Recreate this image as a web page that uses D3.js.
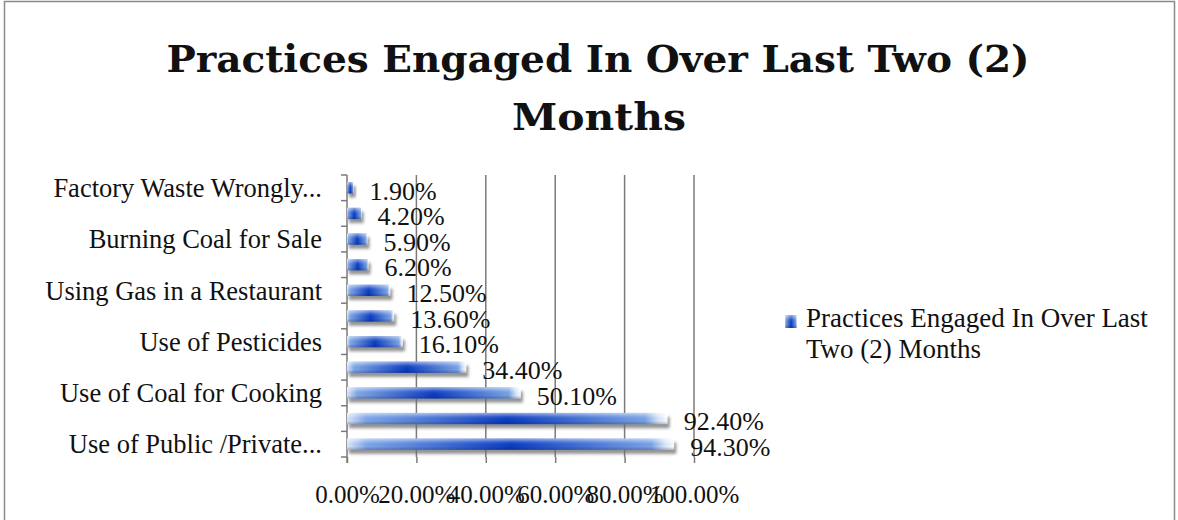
<!DOCTYPE html>
<html>
<head>
<meta charset="utf-8">
<script src="https://cdn.jsdelivr.net/npm/d3@7"></script>
<style>
  body { margin: 0; background: #fff; }
  svg text { font-family: "Liberation Serif", "DejaVu Serif", serif; fill: #111; }
</style>
</head>
<body>
<div id="chart"></div>
<script>
// categories top to bottom; only every other one is labelled in the original
const categories = [
  "Factory Waste Wrongly Disposed",
  "Practice 2",
  "Burning Coal for Sale",
  "Practice 4",
  "Using Gas in a Restaurant",
  "Practice 6",
  "Use of Pesticides",
  "Practice 8",
  "Use of Coal for Cooking",
  "Practice 10",
  "Use of Public /Private Transport"
];
const shownLabels = [
  "Factory Waste Wrongly...", "", "Burning Coal for Sale", "",
  "Using Gas in a Restaurant", "", "Use of Pesticides", "",
  "Use of Coal for Cooking", "", "Use of Public /Private..."
];
const values = [1.9, 4.2, 5.9, 6.2, 12.5, 13.6, 16.1, 34.4, 50.1, 92.4, 94.3];
const xTicks = [0, 20, 40, 60, 80, 100];
const titleLines = ["Practices Engaged In Over Last Two (2)", "Months"];
const legendLines = ["Practices Engaged In Over Last", "Two (2) Months"];

const width = 1178, height = 520;
const margin = { top: 175, left: 347, right: 484, bottom: 63 };

const svg = d3.select("#chart").append("svg")
  .attr("width", width)
  .attr("height", height);

// outer border
svg.append("rect")
  .attr("x", 4.5).attr("y", 1.5)
  .attr("width", 1170).attr("height", 530)
  .attr("fill", "none")
  .attr("stroke", "#8a8a8a")
  .attr("stroke-width", 1.5);

const defs = svg.append("defs");

const hGrad = defs.append("linearGradient")
  .attr("id", "barH").attr("x1", 0).attr("x2", 1).attr("y1", 0).attr("y2", 0);
[[0, "#dbe8fb"], [0.06, "#7fa7e8"], [0.5, "#0a3cc2"], [0.93, "#7aa3e6"], [0.97, "#d6e5fb"], [1, "#ffffff"]]
  .forEach(([o, c]) => hGrad.append("stop").attr("offset", o).attr("stop-color", c));

const vGrad = defs.append("linearGradient")
  .attr("id", "barV").attr("x1", 0).attr("x2", 0).attr("y1", 0).attr("y2", 1);
[[0, "#ffffff", 0.55], [0.35, "#ffffff", 0.1], [0.7, "#000000", 0.0], [1, "#001040", 0.25]]
  .forEach(([o, c, op]) => vGrad.append("stop").attr("offset", o).attr("stop-color", c).attr("stop-opacity", op));

const shadow = defs.append("filter").attr("id", "shadow")
  .attr("x", "-5%").attr("y", "-50%").attr("width", "115%").attr("height", "250%");
shadow.append("feGaussianBlur").attr("stdDeviation", 1.8);

const x = d3.scaleLinear()
  .domain([0, 100])
  .range([margin.left, width - margin.right]);

const y = d3.scaleBand()
  .domain(categories)
  .range([margin.top, height - margin.bottom])
  .paddingInner(0.56)
  .paddingOuter(0.28);

// vertical gridlines
svg.append("g")
  .selectAll("line")
  .data(xTicks.slice(1))
  .join("line")
  .attr("x1", d => x(d)).attr("x2", d => x(d))
  .attr("y1", margin.top).attr("y2", height - margin.bottom)
  .attr("stroke", "#7a7a7a")
  .attr("stroke-width", 1.5);

// x axis (ticks only, no baseline)
const xAxis = d3.axisBottom(x)
  .tickValues(xTicks)
  .tickSize(6)
  .tickPadding(22)
  .tickFormat(d => d3.format(".2f")(d) + "%");

const xAxisG = svg.append("g")
  .attr("transform", `translate(0,${height - margin.bottom})`)
  .call(xAxis);
xAxisG.select(".domain").remove();
xAxisG.selectAll(".tick line").attr("stroke", "#7a7a7a").attr("stroke-width", 1.5);
xAxisG.selectAll(".tick text")
  .attr("font-size", 25)
  .attr("fill", "#111")
  .style("font-family", "'Liberation Serif', serif");

// y axis line with tick marks at category boundaries
const step = y.step();
const boundaries = d3.range(categories.length + 1).map(i => margin.top + i * step);
svg.append("line")
  .attr("x1", x(0)).attr("x2", x(0))
  .attr("y1", margin.top).attr("y2", height - margin.bottom + 6)
  .attr("stroke", "#7a7a7a").attr("stroke-width", 1.5);
svg.append("g")
  .selectAll("line")
  .data(boundaries)
  .join("line")
  .attr("x1", x(0) - 6).attr("x2", x(0))
  .attr("y1", d => d).attr("y2", d => d)
  .attr("stroke", "#7a7a7a").attr("stroke-width", 1.5);

// category labels
svg.append("g")
  .selectAll("text")
  .data(categories)
  .join("text")
  .attr("x", x(0) - 25)
  .attr("y", d => y(d) + y.bandwidth() / 2)
  .attr("dy", "0.35em")
  .attr("text-anchor", "end")
  .attr("font-size", 26.5)
  .text((d, i) => shownLabels[i]);

// bars
const bars = svg.append("g")
  .selectAll("g")
  .data(categories)
  .join("g");

bars.append("rect")
  .attr("x", x(0) + 2)
  .attr("y", d => y(d) + 4)
  .attr("width", (d, i) => x(values[i]) - x(0))
  .attr("height", y.bandwidth())
  .attr("fill", "#6e6e6e")
  .attr("opacity", 0.75)
  .attr("filter", "url(#shadow)");

bars.append("rect")
  .attr("x", x(0))
  .attr("y", d => y(d))
  .attr("width", (d, i) => x(values[i]) - x(0))
  .attr("height", y.bandwidth())
  .attr("fill", "url(#barH)");

bars.append("rect")
  .attr("x", x(0))
  .attr("y", d => y(d))
  .attr("width", (d, i) => x(values[i]) - x(0))
  .attr("height", y.bandwidth())
  .attr("fill", "url(#barV)");

// data labels
bars.append("text")
  .attr("x", (d, i) => x(values[i]) + 16)
  .attr("y", d => y(d) + y.bandwidth() / 2)
  .attr("dy", "0.45em")
  .attr("font-size", 26)
  .text((d, i) => d3.format(".2f")(values[i]) + "%");

// title
const title = svg.append("text")
  .attr("text-anchor", "middle")
  .attr("font-size", 38)
  .attr("font-weight", "bold")
  .style("font-family", "'DejaVu Serif', serif");
title.append("tspan").attr("x", 598).attr("y", 72)
  .attr("textLength", 863).attr("lengthAdjust", "spacingAndGlyphs")
  .text(titleLines[0]);
title.append("tspan").attr("x", 599).attr("y", 130)
  .attr("textLength", 174).attr("lengthAdjust", "spacingAndGlyphs")
  .text(titleLines[1]);

// legend
const legend = svg.append("g").attr("transform", "translate(785,315)");
legend.append("rect")
  .attr("width", 12).attr("height", 13)
  .attr("fill", "url(#barH)");
legend.append("rect")
  .attr("width", 12).attr("height", 13)
  .attr("fill", "url(#barV)");
const legendText = legend.append("text")
  .attr("font-size", 27);
legendText.append("tspan").attr("x", 21).attr("y", 12).text(legendLines[0]);
legendText.append("tspan").attr("x", 21).attr("y", 43).text(legendLines[1]);
</script>
</body>
</html>
